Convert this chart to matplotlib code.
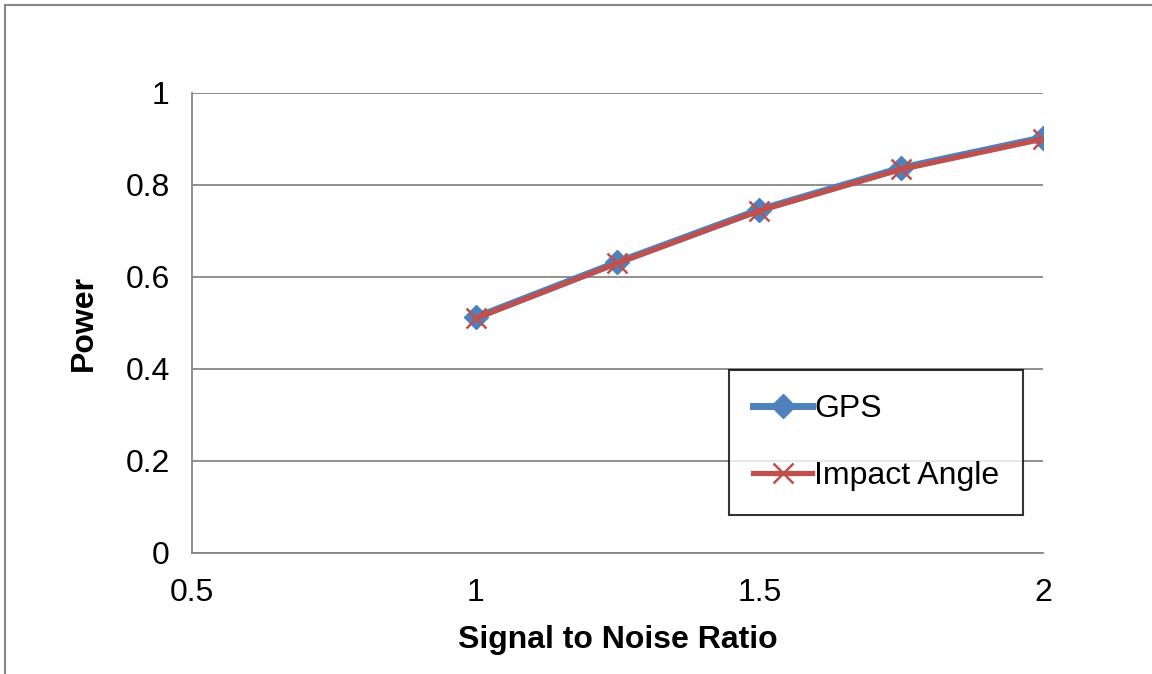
import matplotlib.pyplot as plt
from matplotlib.patches import Rectangle

plt.rcParams['font.family'] = ['Liberation Sans', 'DejaVu Sans']

snr = [1.0, 1.25, 1.5, 1.75, 2.0]
power_gps = [0.512, 0.632, 0.746, 0.837, 0.903]
power_impact = [0.510, 0.630, 0.744, 0.834, 0.900]

x_ticks = [0.5, 1, 1.5, 2]
x_tick_labels = ['0.5', '1', '1.5', '2']
y_ticks = [0, 0.2, 0.4, 0.6, 0.8, 1]
y_tick_labels = ['0', '0.2', '0.4', '0.6', '0.8', '1']

FS = 23


def main():
    fig = plt.figure(figsize=(11.52, 6.74), dpi=100)
    ax = fig.add_axes([192 / 1152, 1 - 553 / 674, (1043 - 192) / 1152, (553 - 93) / 674])

    # outer chart border, runs off the right and bottom edges
    fig.patches.append(Rectangle((5 / 1152, -0.1), 1.2, 1.1 - 5 / 674,
                                 transform=fig.transFigure, fill=False,
                                 edgecolor='#868686', linewidth=1.5))

    ax.plot(snr, power_gps, color='#4F81BD', linewidth=5, marker='D',
            markersize=12, label='GPS', zorder=3)
    ax.plot(snr, power_impact, color='#C0504D', linewidth=3.8, marker='x',
            markersize=15, markeredgewidth=1.8, label='Impact Angle', zorder=4)

    ax.set_xlim(0.5, 2)
    ax.set_ylim(0, 1)
    ax.set_xticks(x_ticks)
    ax.set_xticklabels(x_tick_labels)
    ax.set_yticks(y_ticks)
    ax.set_yticklabels(y_tick_labels)
    ax.tick_params(axis='both', length=0, labelsize=FS, colors='black')
    ax.tick_params(axis='x', pad=18)
    ax.tick_params(axis='y', pad=16)

    ax.yaxis.grid(True, color='#868686', linewidth=1.3, zorder=0)
    ax.set_axisbelow(True)
    for side in ['top', 'right']:
        ax.spines[side].set_visible(False)
    for side in ['left', 'bottom']:
        ax.spines[side].set_color('#868686')
        ax.spines[side].set_linewidth(1.3)

    ax.set_xlabel('Signal to Noise Ratio', fontweight='bold', fontsize=FS, labelpad=12)
    ax.set_ylabel('Power', fontweight='bold', fontsize=FS, labelpad=19)

    leg = ax.legend(loc='lower right', bbox_to_anchor=(1023 / 1152, 1 - 515 / 674),
                    bbox_transform=fig.transFigure, fontsize=FS, frameon=True,
                    fancybox=False, edgecolor='black', handlelength=1.85,
                    handletextpad=0.05, labelspacing=1.15, borderpad=0.75,
                    borderaxespad=0)
    leg.get_frame().set_linewidth(1.5)

    fig.savefig('out.png', dpi=100)


if __name__ == '__main__':
    main()
